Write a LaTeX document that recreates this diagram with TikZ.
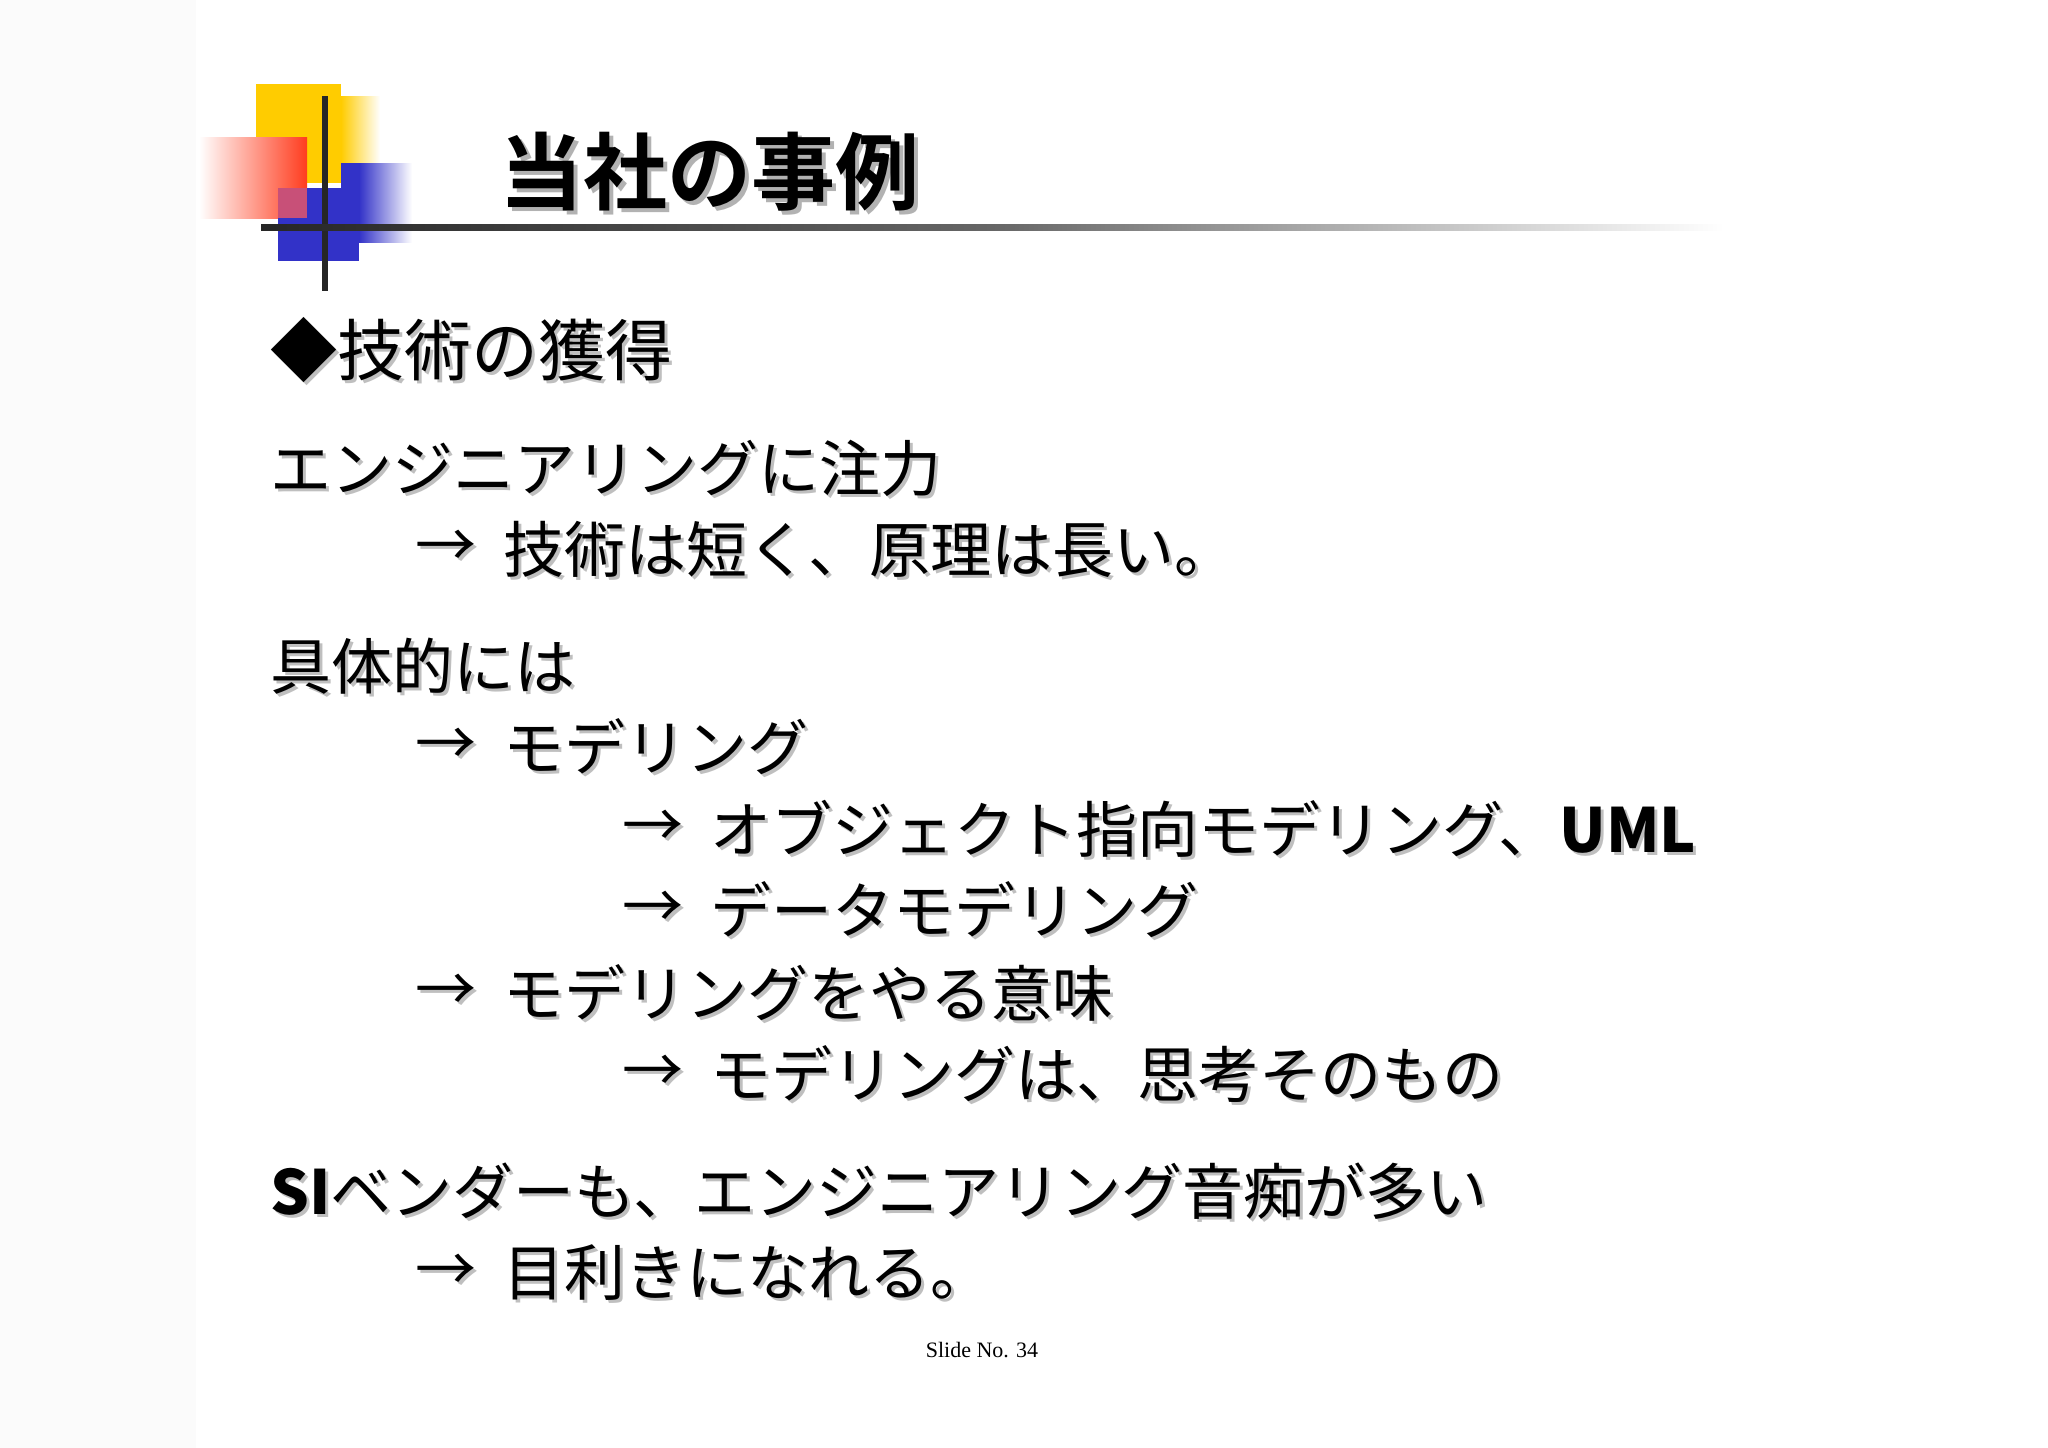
\documentclass[tikz,border=0pt]{standalone}
\usepackage{fontspec}
\setmainfont{Noto Sans CJK JP}
\newfontfamily\jpbold{Noto Sans CJK JP}[BoldFont={* Bold}]
\definecolor{lyel}{RGB}{255,204,0}
\definecolor{lred}{RGB}{255,60,30}
\definecolor{lblue}{RGB}{50,50,200}
\definecolor{lmix}{RGB}{200,80,120}
\begin{document}
\begin{tikzpicture}[x=1pt,y=-1pt,
  body/.style={anchor=west,inner sep=0pt,font=\fontsize{61}{61}\selectfont},
  shadowtxt/.style={anchor=west,inner sep=0pt,text=black!25,font=\fontsize{61}{61}\selectfont}]
\useasboundingbox (0,0) rectangle (2048,1448);
\fill[white] (0,0) rectangle (2048,1448);
\fill[black!1.5] (0,0) rectangle (196,1448);
% logo
\fill[lyel] (256,84) rectangle (341,183);
\shade[left color=lyel, right color=white] (341,96) rectangle (380,183);
\shade[left color=white, right color=lred] (199,137) rectangle (307,218);
\fill[lblue] (278,188) rectangle (359,261);
\fill[lmix] (278,188) rectangle (307,218);
\shade[left color=lblue, right color=white] (359,163) rectangle (412,242);
\fill[lblue] (341,163) rectangle (359,188);
\fill[black!85] (322,96) rectangle (328,291);
\shade[left color=black!85, right color=white, middle color=black!60] (261,224) rectangle (1724,230);
% title
\node[anchor=west,inner sep=0pt,text=black!30,font=\jpbold\bfseries\fontsize{84}{84}\selectfont] (titles) at (503,176) {当社の事例};
\node[anchor=west,inner sep=0pt,font=\jpbold\bfseries\fontsize{84}{84}\selectfont] (title) at (499,172) {当社の事例};
% body
\node[shadowtxt,font=\fontsize{67}{67}\selectfont] at (273,353) {◆技術の獲得};
\node[body,font=\fontsize{67}{67}\selectfont] (h1) at (270,350) {◆技術の獲得};
\foreach \x/\y/\t [count=\i] in {
 270/468/エンジニアリングに注力,
 415/549/→,
 503/549/技術は短く、原理は長い。,
 270/666/具体的には,
 415/747/→,
 503/747/モデリング,
 622/829/→,
 710/829/オブジェクト指向モデリング、\textbf{UML},
 622/910/→,
 710/910/データモデリング,
 415/993/→,
 503/993/モデリングをやる意味,
 622/1074/→,
 710/1074/モデリングは、思考そのもの,
 270/1191/\textbf{SI}ベンダーも、エンジニアリング音痴が多い,
 415/1273/→,
 503/1273/目利きになれる。}{
 \node[shadowtxt] at (\x+3,\y+3) {\t};
 \node[body] (t\i) at (\x,\y) {\t};
}
\node[font=\fontsize{22}{22}\selectfont,inner sep=0pt] (slide) at (982,1350) {\fontspec{Liberation Serif}Slide No. 34};
\end{tikzpicture}
\end{document}
